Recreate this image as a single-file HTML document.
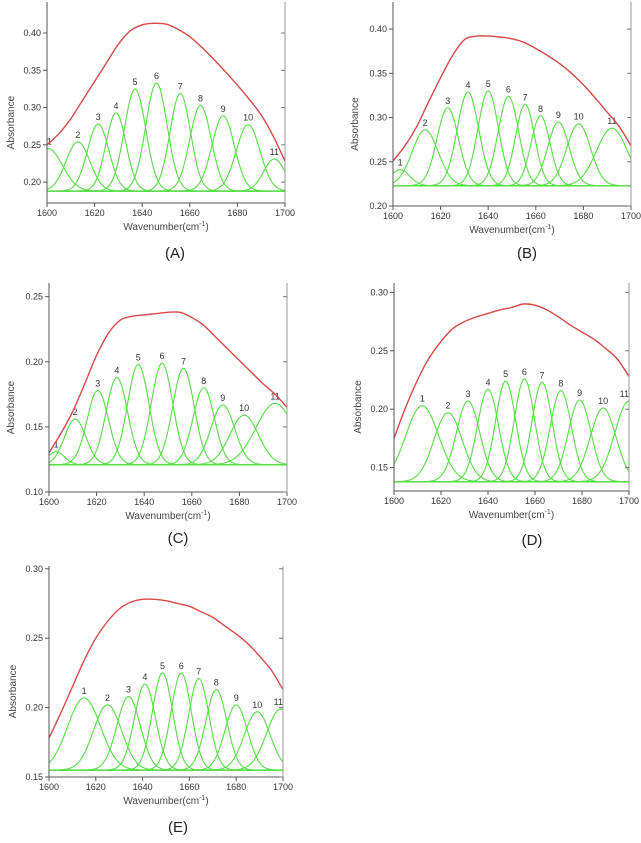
<!DOCTYPE html>
<html><head><meta charset="utf-8"><style>
html,body{margin:0;padding:0;background:#fff;}
svg{display:block;font-family:"Liberation Sans",sans-serif;}
</style></head><body>
<svg id="fig" width="641" height="843" viewBox="0 0 641 843"></svg>
<script>
// ---- data ----
const xTicks = [1600,1620,1640,1660,1680,1700];
const panelLabels = ["(A)","(B)","(C)","(D)","(E)"];
const baselines = [0.188,0.223,0.121,0.138,0.155];
const yTicksA = [0.20,0.25,0.30,0.35,0.40];
const yTicksB = [0.20,0.25,0.30,0.35,0.40];
const yTicksC = [0.10,0.15,0.20,0.25];
const yTicksD = [0.15,0.20,0.25,0.30];
const yTicksE = [0.15,0.20,0.25,0.30];
const centersA = [1600.5,1613,1621.5,1629,1637,1646,1656,1664.5,1674,1684.5,1695.5];
const heightsA = [0.245,0.254,0.278,0.293,0.325,0.333,0.319,0.303,0.289,0.277,0.231];
const sigmasA  = [6,5,4.5,4.2,4.5,4.5,4.3,4.5,4.7,5,4.5];
const centersB = [1603,1613.5,1623,1631.5,1640,1648.5,1655.5,1662,1669.5,1678,1692];
const heightsB = [0.241,0.286,0.311,0.329,0.330,0.324,0.315,0.302,0.295,0.293,0.288];
const sigmasB  = [4,5.5,4.5,4.5,4.3,4.3,4,4,4.5,5,6.5];
const centersC = [1603,1611,1620.5,1628.5,1637.5,1647.5,1656.5,1665,1673,1682,1695];
const heightsC = [0.131,0.156,0.178,0.188,0.198,0.199,0.195,0.180,0.167,0.159,0.168];
const sigmasC  = [3.5,4.5,4.5,4.5,4.5,4.5,4.5,4.5,5,6,8];
const centersD = [1612,1623,1631.5,1640,1647.5,1655.5,1663,1671,1679,1689,1700];
const heightsD = [0.203,0.197,0.207,0.217,0.224,0.226,0.223,0.216,0.208,0.201,0.207];
const sigmasD  = [7,6,5,4.5,4.3,4.3,4.3,4.5,4.8,5.5,6];
const centersE = [1615,1625,1634,1641,1648.5,1656.5,1664,1671.5,1680,1689,1699];
const heightsE = [0.207,0.202,0.208,0.217,0.225,0.225,0.221,0.213,0.202,0.197,0.199];
const sigmasE  = [7,6,5,4.5,4.3,4.3,4.3,4.5,4.8,5.5,6];
const envXA = [1600,1605,1610,1615,1620,1625,1630,1635,1640,1645,1650,1655,1660,1665,1670,1675,1680,1685,1690,1695,1700];
const envYA = [0.250,0.265,0.285,0.310,0.335,0.360,0.385,0.403,0.411,0.413,0.412,0.405,0.395,0.381,0.365,0.348,0.330,0.311,0.290,0.262,0.228];
const envXB = [1600,1605,1610,1615,1620,1625,1630,1635,1640,1645,1650,1655,1660,1665,1670,1675,1680,1685,1690,1695,1700];
const envYB = [0.251,0.268,0.290,0.318,0.345,0.370,0.388,0.392,0.392,0.391,0.389,0.385,0.378,0.370,0.361,0.350,0.337,0.322,0.306,0.290,0.268];
const envXC = [1600,1605,1610,1615,1620,1625,1630,1635,1640,1645,1650,1655,1660,1665,1670,1675,1680,1685,1690,1695,1700];
const envYC = [0.130,0.145,0.162,0.183,0.205,0.222,0.232,0.235,0.236,0.237,0.238,0.238,0.234,0.228,0.219,0.210,0.201,0.192,0.183,0.175,0.165];
const envXD = [1600,1605,1610,1615,1620,1625,1630,1635,1640,1645,1650,1655,1660,1665,1670,1675,1680,1685,1690,1695,1700];
const envYD = [0.175,0.202,0.225,0.244,0.258,0.269,0.275,0.279,0.282,0.285,0.287,0.290,0.289,0.285,0.279,0.272,0.266,0.260,0.252,0.243,0.228];
const envXE = [1600,1605,1610,1615,1620,1625,1630,1635,1640,1645,1650,1655,1660,1665,1670,1675,1680,1685,1690,1695,1700];
const envYE = [0.178,0.196,0.215,0.234,0.250,0.262,0.271,0.276,0.278,0.278,0.277,0.275,0.273,0.269,0.265,0.259,0.253,0.246,0.237,0.227,0.213];

// ---- layout (positions, not data) ----
const panels = [
 {L:47,R:285,B:203,T:2,y0:0.172,y1:0.4416,yT:yTicksA,c:centersA,h:heightsA,s:sigmasA,ex:envXA,ey:envYA,lx:175,ly:258,ax:10},
 {L:393,R:631,B:206,T:2,y0:0.20,y1:0.4306,yT:yTicksB,c:centersB,h:heightsB,s:sigmasB,ex:envXB,ey:envYB,lx:527,ly:258,ax:354},
 {L:49,R:287,B:492,T:283,y0:0.10,y1:0.2605,yT:yTicksC,c:centersC,h:heightsC,s:sigmasC,ex:envXC,ey:envYC,lx:178,ly:543,ax:10},
 {L:394,R:629,B:491,T:283,y0:0.130,y1:0.308,yT:yTicksD,c:centersD,h:heightsD,s:sigmasD,ex:envXD,ey:envYD,lx:532,ly:545,ax:357},
 {L:49,R:283,B:777,T:566,y0:0.15,y1:0.302,yT:yTicksE,c:centersE,h:heightsE,s:sigmasE,ex:envXE,ey:envYE,lx:178,ly:832,ax:12}
];
const NS="http://www.w3.org/2000/svg";
const svg=document.getElementById('fig');
function mk(tag,attrs,parent){const e=document.createElementNS(NS,tag);for(const k in attrs)e.setAttribute(k,attrs[k]);(parent||svg).appendChild(e);return e;}

panels.forEach((p,i)=>{
  const g=mk('g',{});
  
  
  const sx=x=>p.L+(x-1600)/100*(p.R-p.L);
  const sy=y=>p.B-(y-p.y0)/(p.y1-p.y0)*(p.B-p.T);
  const base=baselines[i];
  p.c.forEach((c,k)=>{
    let d='';
    for(let x=1600;x<=1700;x+=0.5){
      const v=base+(p.h[k]-base)*Math.exp(-((x-c)**2)/(2*p.s[k]**2));
      d+=(d?'L':'M')+sx(x).toFixed(1)+','+sy(v).toFixed(1);
    }
    const path=mk('path',{d:d,fill:'none',stroke:'#55dd44','stroke-width':1.1},g);
    
    
    const t=mk('text',{x:sx(Math.min(Math.max(c,1601),1698)),y:sy(p.h[k])-4,'font-size':9,'text-anchor':'middle',fill:'#333'},g);
    t.textContent=String(k+1);
    
    
  });
  const bl=mk('line',{x1:p.L,x2:p.R,y1:sy(base),y2:sy(base),stroke:'#55dd44','stroke-width':1.3},g);
  
  
  // envelope, Catmull-Rom smoothed
  const pts=p.ex.map((x,k)=>[sx(x),sy(p.ey[k])]);
  let d='M'+pts[0][0].toFixed(1)+','+pts[0][1].toFixed(1);
  for(let k=0;k<pts.length-1;k++){
    const p0=pts[Math.max(k-1,0)],p1=pts[k],p2=pts[k+1],p3=pts[Math.min(k+2,pts.length-1)];
    const c1=[p1[0]+(p2[0]-p0[0])/6,p1[1]+(p2[1]-p0[1])/6];
    const c2=[p2[0]-(p3[0]-p1[0])/6,p2[1]-(p3[1]-p1[1])/6];
    d+=`C${c1[0].toFixed(1)},${c1[1].toFixed(1)} ${c2[0].toFixed(1)},${c2[1].toFixed(1)} ${p2[0].toFixed(1)},${p2[1].toFixed(1)}`;
  }
  const env=mk('path',{d:d,fill:'none',stroke:'#d84848','stroke-width':1.4,'stroke-linejoin':'round'},g);
  
  
  mk('path',{d:`M${p.L},${p.T}V${p.B}H${p.R}`,fill:'none',stroke:'#555','stroke-width':1},g);
  mk('line',{x1:p.R,x2:p.R,y1:p.T,y2:p.B,stroke:'#999','stroke-width':1},g);
  xTicks.forEach(v=>{
    mk('line',{x1:sx(v),x2:sx(v),y1:p.B,y2:p.B+4,stroke:'#555'},g);
    const t=mk('text',{x:sx(v),y:p.B+13,'font-size':9,'text-anchor':'middle',fill:'#333'},g);
    t.textContent=v;
    
    
  });
  p.yT.forEach(v=>{
    mk('line',{x1:p.L-4,x2:p.L,y1:sy(v),y2:sy(v),stroke:'#555'},g);
    mk('line',{x1:p.R-4,x2:p.R,y1:sy(v),y2:sy(v),stroke:'#777'},g);
    const t=mk('text',{x:p.L-6,y:sy(v)+3,'font-size':9,'text-anchor':'end',fill:'#333'},g);
    t.textContent=v.toFixed(2);
    
    
  });
  const xt=mk('text',{x:(p.L+p.R)/2,y:p.B+27,'font-size':10,'text-anchor':'middle',fill:'#444'},g);
  xt.innerHTML='Wavenumber(cm<tspan dy="-4" font-size="7">-1</tspan><tspan dy="4">)</tspan>';
  
  
  const ym=(p.T+p.B)/2+20;
  const yt=mk('text',{x:p.ax+4,y:ym,'font-size':10,'text-anchor':'middle',fill:'#444',transform:`rotate(-90 ${p.ax+4} ${ym})`},g);
  yt.textContent='Absorbance';
  
  
  const pl=mk('text',{x:p.lx,y:p.ly,'font-size':15,'text-anchor':'middle',fill:'#222'},g);
  pl.textContent=panelLabels[i];
  
  
});
</script>
</body></html>
